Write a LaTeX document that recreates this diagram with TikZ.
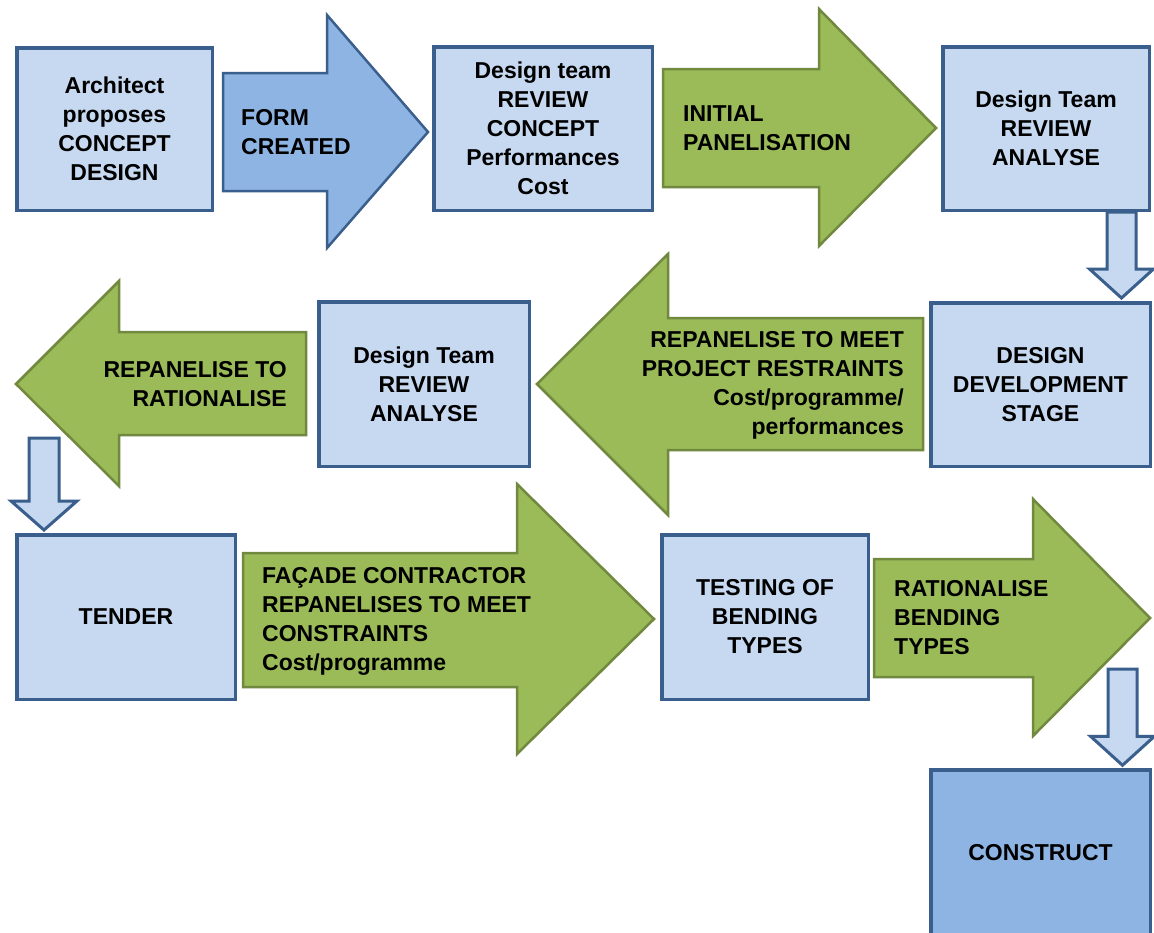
\documentclass[tikz,border=0pt]{standalone}
\usepackage{fontspec}
\setmainfont{Liberation Sans}
\usetikzlibrary{calc}
\definecolor{boxfill}{RGB}{198,217,240}
\definecolor{boxline}{RGB}{58,95,140}
\definecolor{midblue}{RGB}{142,180,227}
\definecolor{gfill}{RGB}{155,187,89}
\definecolor{gline}{RGB}{113,137,63}
\newcommand\lbltxt{\fontsize{23}{29}\selectfont\bfseries}
\tikzset{
  box/.style={draw=boxline, line width=3.5pt, fill=boxfill, align=center,
    inner sep=0pt, font=\lbltxt, text=black},
  darkbox/.style={box, fill=midblue},
  greenarrow/.style={draw=gline, fill=gfill, line width=2.5pt, line join=miter},
  bluearrow/.style={draw=boxline, fill=midblue, line width=2.5pt, line join=miter},
  downblk/.style={draw=boxline, fill=boxfill, line width=3pt, line join=miter},
  lblleft/.style={anchor=west, align=left, inner sep=0pt, font=\lbltxt},
  lblright/.style={anchor=east, align=right, inner sep=0pt, font=\lbltxt},
}
% #1 top coordinate, #2 tip coordinate, #3 shaft half width, #4 head half width
\newcommand\downblock[4]{%
  \draw[downblk] ($(#1)+(-#3,0)$) -- ($(#1)+(#3,0)$) -- ($(#2)+(#3,-29)$)
    -- ($(#2)+(#4,-29)$) -- (#2) -- ($(#2)+(-#4,-29)$) -- ($(#2)+(-#3,-29)$) -- cycle;}
\begin{document}
\begin{tikzpicture}[x=1pt,y=-1pt]
\useasboundingbox (0,0) rectangle (1154,932);
\fill[white] (0,0) rectangle (1154,932);

% ---- big arrows ----
\draw[bluearrow] (223,73) -- (327,73) -- (327,15) -- (428,132) -- (327,248) -- (327,191) -- (223,191) -- cycle;
\node[lblleft] (tA1) at (241,132) {FORM\\CREATED};

\draw[greenarrow] (663,69) -- (819,69) -- (819,9) -- (936,128) -- (819,246) -- (819,187) -- (663,187) -- cycle;
\node[lblleft] (tA2) at (683,128) {INITIAL\\PANELISATION};

\draw[greenarrow] (923,318) -- (668,318) -- (668,254) -- (537,384) -- (668,515) -- (668,450) -- (923,450) -- cycle;
\node[lblright] (tA3) at (904,385) {REPANELISE TO MEET\\PROJECT RESTRAINTS\\Cost/programme/\\performances};

\draw[greenarrow] (306,332) -- (119,332) -- (119,281) -- (16,384) -- (119,486) -- (119,435) -- (306,435) -- cycle;
\node[lblright] (tA4) at (287,384) {REPANELISE TO\\RATIONALISE};

\draw[greenarrow] (243,553) -- (517,553) -- (517,484) -- (654,619) -- (517,754) -- (517,687) -- (243,687) -- cycle;
\node[lblleft] (tA5) at (262,621) {FAÇADE CONTRACTOR\\REPANELISES TO MEET\\CONSTRAINTS\\Cost/programme};

\draw[greenarrow] (874,559) -- (1033,559) -- (1033,499) -- (1150,618) -- (1033,736) -- (1033,677) -- (874,677) -- cycle;
\node[lblleft] (tA6) at (894,618) {RATIONALISE\\BENDING\\TYPES};

% ---- boxes ----
\node[box, minimum width=195.5pt, minimum height=162.5pt] (b1) at (114.5,129) {Architect\\proposes\\CONCEPT\\DESIGN};
\node[box, minimum width=218.5pt, minimum height=163.5pt] (b2) at (543,128.5) {Design team\\REVIEW\\CONCEPT\\Performances\\Cost};
\node[box, minimum width=206.5pt, minimum height=163.5pt] (b3) at (1046,128.5) {Design Team\\REVIEW\\ANALYSE};
\node[box, minimum width=219.5pt, minimum height=163.5pt] (b4) at (1040.5,384.5) {DESIGN\\DEVELOPMENT\\STAGE};
\node[box, minimum width=210.5pt, minimum height=164.5pt] (b5) at (424,384) {Design Team\\REVIEW\\ANALYSE};
\node[box, minimum width=218.5pt, minimum height=164.5pt] (b6) at (126,617) {TENDER};
\node[box, minimum width=206.5pt, minimum height=164.5pt] (b7) at (765,617) {TESTING OF\\BENDING\\TYPES};
\node[darkbox, minimum width=219.5pt, minimum height=165pt] (b8) at (1040.5,852.5) {CONSTRUCT};

% ---- block down arrows ----
\coordinate (d1a) at ($(b3.south east)+(-29.5,0)$);
\coordinate (d1b) at ($(d1a |- b4.north)+(0,-3)$);
\downblock{d1a}{d1b}{14.5}{32}

\coordinate (d2a) at (44,438);
\coordinate (d2b) at ($(d2a |- b6.north)+(0,-3)$);
\downblock{d2a}{d2b}{15}{33}

\coordinate (d3a) at (1122.5,669);
\coordinate (d3b) at ($(d3a |- b8.north)+(0,-3)$);
\downblock{d3a}{d3b}{14.5}{32}
\end{tikzpicture}
\end{document}
